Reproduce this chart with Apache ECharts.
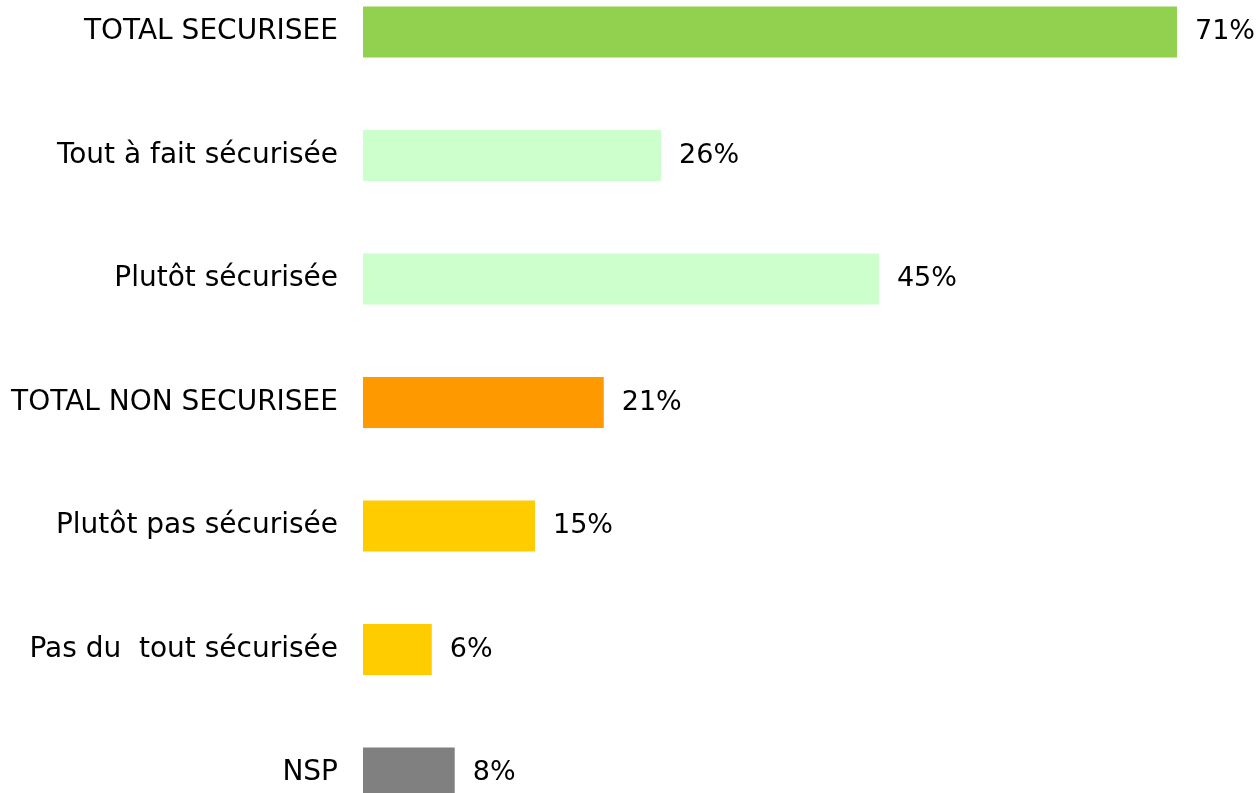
<!DOCTYPE html>
<html>
<head>
<meta charset="utf-8">
<script src="https://cdn.jsdelivr.net/npm/echarts@6/dist/echarts.min.js"></script>
<style>
  html, body { margin: 0; padding: 0; background: #fff; }
  #chart { width: 1259px; height: 793px; }
</style>
</head>
<body>
<div id="chart"></div>
<script>
// categories from top to bottom
const categories = [
  'TOTAL SECURISEE',
  'Tout à fait sécurisée',
  'Plutôt sécurisée',
  'TOTAL NON SECURISEE',
  'Plutôt pas sécurisée',
  'Pas du  tout sécurisée',
  'NSP'
]
const values = [71, 26, 45, 21, 15, 6, 8]
const barColors = ['#92D050', '#CCFFCC', '#CCFFCC', '#FF9900', '#FFCC00', '#FFCC00', '#808080']

const chart = echarts.init(document.getElementById('chart'))
chart.setOption({
  animation: false,
  grid: {
    left: 363,
    width: 814,
    top: 32,
    height: 741,
    containLabel: false
  },
  xAxis: {
    type: 'value',
    min: 0,
    max: 71,
    show: false
  },
  yAxis: {
    type: 'category',
    inverse: true,
    boundaryGap: false,
    data: categories,
    axisLine: { show: false },
    axisTick: { show: false },
    splitLine: { show: false },
    axisLabel: {
      margin: 25,
      color: '#000',
      fontFamily: 'DejaVu Sans',
      fontSize: 28
    }
  },
  series: [{
    type: 'bar',
    barWidth: 51,
    data: values.map((v, i) => ({ value: v, itemStyle: { color: barColors[i] } })),
    label: {
      show: true,
      position: 'right',
      distance: 18,
      formatter: '{c}%',
      color: '#000',
      fontFamily: 'DejaVu Sans',
      fontSize: 27
    }
  }]
})
</script>
</body>
</html>
